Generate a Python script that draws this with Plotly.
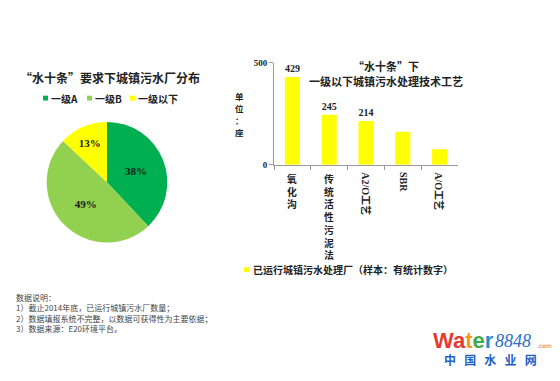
import plotly.graph_objects as go

# page body has an 8px default margin; the figure is sized to fit inside it
PAGE_W, PAGE_H, OFF = 560, 381, 8
W, H = PAGE_W - 2 * OFF, PAGE_H - 2 * OFF

# ---------------- data ----------------
pie_title = "“水十条”要求下城镇污水厂分布"
pie_labels = ["一级A", "一级B", "一级以下"]
pie_values = [38, 49, 13]
pie_colors = ["#00B050", "#92D050", "#FFFF00"]

bar_title_lines = ["“水十条”下", "一级以下城镇污水处理技术工艺"]
bar_categories = ["氧化沟", "传统活性污泥法", "A2/O工艺", "SBR", "A/O工艺"]
bar_values = [429, 245, 214, 162, 76]
bar_label_shown = [True, True, True, False, False]
bar_series_name = "已运行城镇污水处理厂（样本：有统计数字）"
bar_color = "#FFFF00"
y_unit = "单位：座"
y_ticks = [0, 500]

notes = [
    "数据说明：",
    "1）截止2014年底，已运行城镇污水厂数量；",
    "2）数据填报系统不完整，以数据可获得性为主要依据；",
    "3）数据来源：E20环境平台。",
]

# ---------------- helpers (page pixel -> paper fraction) ----------------
def px(x):
    return (x - OFF) / W

def py(y):
    return 1 - (y - OFF) / H

CJK = "Noto Sans CJK SC"
SERIF = "Liberation Serif, Noto Sans CJK SC"

fig = go.Figure()

fig.add_trace(go.Pie(
    labels=pie_labels, values=pie_values, sort=False, direction="clockwise",
    rotation=0, marker=dict(colors=pie_colors, line=dict(width=0)),
    textinfo="percent", texttemplate="<b>%{percent:.0%}</b>",
    textposition="inside", insidetextorientation="horizontal",
    textfont=dict(family=SERIF, size=11, color="#1a1a1a"),
    domain=dict(x=[px(45), px(169)], y=[py(244), py(120)]),
    showlegend=False, hoverinfo="label+percent",
))

fig.add_trace(go.Bar(
    x=bar_categories, y=bar_values, marker=dict(color=bar_color, line=dict(width=0)),
    text=[f"<b>{v}</b>" if s else "" for v, s in zip(bar_values, bar_label_shown)],
    textposition="outside", textfont=dict(family=SERIF, size=10, color="#222"),
    cliponaxis=False, showlegend=False, name=bar_series_name,
))

ann = []
shapes = []

def note(x, y, text, size, color="#222", family=CJK, xanchor="center", yanchor="middle", **kw):
    d = dict(x=px(x), y=py(y), xref="paper", yref="paper", text=text, showarrow=False,
             xanchor=xanchor, yanchor=yanchor, font=dict(family=family, size=size, color=color))
    d.update(kw)
    ann.append(d)

# pie title
note(110, 74, "<b>" + pie_title + "</b>", 12)
# pie legend
leg_x = [43, 87, 130]
for i, (lab, col) in enumerate(zip(pie_labels, pie_colors)):
    x0 = leg_x[i]
    shapes.append(dict(type="rect", xref="paper", yref="paper",
                       x0=px(x0), x1=px(x0 + 5), y0=py(98), y1=py(93),
                       fillcolor=col, line=dict(width=0)))
    note(x0 + 6, 95.5, "<b>" + lab + "</b>", 10, xanchor="left")

# bar title (two lines)
for i, line in enumerate(bar_title_lines):
    note(386, 62 + i * 16.2, "<b>" + line + "</b>", 11)
# unit, stacked vertically one character at a time
for i, ch in enumerate(y_unit):
    note(239, 93 + i * 12.4, "<b>" + ch + "</b>", 8.5)

# category labels
for cat in bar_categories:
    if all("\u4e00" <= ch <= "\u9fff" for ch in cat):
        ann.append(dict(x=cat, xref="x", y=py(164), yref="paper", xanchor="center",
                        yanchor="top", yshift=-5,
                        text="<b>" + "<br>".join(list(cat)) + "</b>", showarrow=False,
                        font=dict(family=CJK, size=9.8, color="#222")))
    else:
        ann.append(dict(x=cat, xref="x", y=py(164), yref="paper", xanchor="center",
                        yanchor="top", yshift=-5,
                        text="<b>" + cat + "</b>", textangle=90, showarrow=False,
                        font=dict(family=SERIF, size=10, color="#222")))

# bar legend
shapes.append(dict(type="rect", xref="paper", yref="paper",
                   x0=px(244), x1=px(249), y0=py(274.5), y1=py(269.5),
                   fillcolor=bar_color, line=dict(width=0)))
note(251, 272, "<b>" + bar_series_name + "</b>", 10, xanchor="left")

# notes
note(14, 316.5, "<br>".join(notes), 8, color="#444", xanchor="left", align="left")

# logo
note(431, 344.5, ("<b><span style='color:#E53A2F'>Wa</span><span style='color:#F39A1E'>t</span>"
                  "<span style='color:#3DAA4A'>e</span><span style='color:#2A8FC9'>r</span></b>"),
     22, family="Liberation Sans", xanchor="left")
note(493, 345, "<i>8848</i>", 18, color="#2A6FC9", family="Liberation Serif", xanchor="left")
note(535, 350, ".com", 6, color="#E5532F", family="DejaVu Sans", xanchor="left")
note(490, 364, "<b>中&nbsp;&nbsp;&nbsp;国&nbsp;&nbsp;&nbsp;水&nbsp;&nbsp;&nbsp;业&nbsp;&nbsp;&nbsp;网</b>",
     12, color="#1E5FBF")

fig.update_layout(
    width=W, height=H, margin=dict(l=0, r=0, t=0, b=0),
    paper_bgcolor="white", plot_bgcolor="white",
    bargap=0.59,
    xaxis=dict(domain=[px(274), px(458)], type="category", showticklabels=False,
               ticks="outside", tickson="boundaries", ticklen=4, tickcolor="#999",
               showline=True, linecolor="#999", linewidth=1, showgrid=False, fixedrange=True),
    yaxis=dict(domain=[py(164), py(59)], range=[0, 500], tickmode="array", tickvals=y_ticks,
               ticktext=["<b>%d</b>" % v for v in y_ticks],
               ticks="outside", ticklen=4, tickcolor="#999",
               showline=True, linecolor="#999", linewidth=1, showgrid=False, zeroline=False,
               tickfont=dict(family=SERIF, size=9, color="#222"), fixedrange=True),
    annotations=ann, shapes=shapes,
)

fig.write_html("out.html")
